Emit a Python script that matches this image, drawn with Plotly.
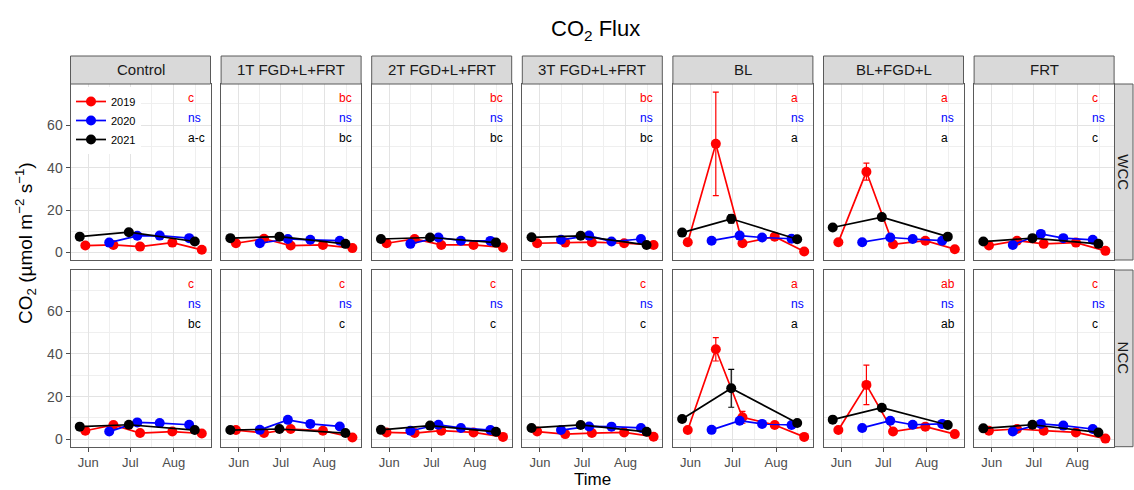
import plotly.graph_objects as go

W, H = 1134, 490

panels = ["Control", "1T FGD+L+FRT", "2T FGD+L+FRT", "3T FGD+L+FRT", "BL", "BL+FGD+L", "FRT"]
rows = ["WCC", "NCC"]
years = ["2019", "2020", "2021"]
year_colors = ["#FF0000", "#0000FF", "#000000"]

# sampling dates (all mapped onto a common year for the month axis)
dates_2019 = ["2000-05-30", "2000-06-19", "2000-07-08", "2000-07-31", "2000-08-21"]
dates_2020 = ["2000-06-16", "2000-07-06", "2000-07-22", "2000-08-12"]
dates_2021 = ["2000-05-26", "2000-06-30", "2000-08-16"]

# CO2 flux means, one list per treatment (panel order above)
wcc_2019 = [[3.3, 3.6, 2.8, 4.7, 1.3], [4.4, 6.5, 3.3, 3.6, 2.1], [4.4, 6.4, 3.6, 3.6, 2.4],
            [4.4, 4.7, 4.9, 4.4, 3.6], [4.9, 51.2, 4.4, 7.5, 0.5], [4.9, 38.1, 3.9, 5.6, 1.6],
            [3.3, 5.6, 4.1, 4.7, 0.8]]
wcc_2020 = [[4.7, 7.9, 8.0, 6.8], [4.4, 6.4, 6.0, 5.6], [4.1, 7.1, 5.6, 5.5],
            [6.0, 8.0, 5.2, 6.4], [5.6, 8.0, 7.1, 6.5], [4.9, 7.1, 6.4, 5.6],
            [3.6, 8.8, 6.8, 6.0]]
wcc_2021 = [[7.5, 9.6, 5.2], [6.8, 7.5, 4.1], [6.4, 7.1, 4.7], [7.2, 7.9, 3.6],
            [9.4, 15.9, 6.3], [11.8, 16.7, 7.5], [5.2, 6.8, 4.1]]
ncc_2019 = [[4.0, 6.7, 2.9, 3.6, 2.7], [4.3, 2.9, 4.8, 4.0, 0.8], [3.2, 2.9, 4.0, 3.2, 1.1],
            [3.6, 2.4, 2.9, 3.2, 1.2], [4.3, 42.2, 10.3, 6.7, 1.1], [4.3, 25.5, 3.6, 5.9, 2.4],
            [4.0, 4.8, 4.0, 3.2, 0.3]]
ncc_2020 = [[3.6, 7.9, 7.6, 6.8], [4.4, 9.1, 7.2, 6.0], [4.0, 6.8, 5.3, 4.3],
            [4.3, 6.0, 5.9, 5.3], [4.4, 8.7, 7.2, 6.7], [5.3, 8.7, 6.8, 7.2],
            [3.6, 7.2, 6.4, 4.8]]
ncc_2021 = [[5.9, 6.8, 4.3], [4.3, 4.8, 2.9], [4.4, 6.4, 3.5], [5.3, 6.7, 3.5],
            [9.5, 23.9, 7.6], [9.2, 14.8, 6.7], [5.1, 6.8, 3.2]]

# standard errors
wcc_2019_se = [[0.4, 0.5, 0.4, 0.5, 0.3], [0.4, 0.5, 0.4, 0.4, 0.3], [0.4, 0.5, 0.4, 0.4, 0.3],
               [0.4, 0.5, 0.4, 0.4, 0.3], [0.5, 24.4, 0.8, 0.8, 0.3], [0.5, 4.0, 0.5, 0.5, 0.3],
               [0.4, 0.5, 0.4, 0.4, 0.3]]
wcc_2020_se = [[0.4, 0.5, 0.5, 0.4]] * 7
wcc_2021_se = [[0.5, 0.6, 0.4], [0.5, 0.5, 0.4], [0.5, 0.5, 0.4], [0.5, 0.5, 0.4],
               [0.5, 2.0, 0.5], [0.5, 0.6, 0.5], [0.5, 0.5, 0.4]]
ncc_2019_se = [[0.4, 1.2, 0.4, 0.4, 0.3], [0.4, 0.4, 0.4, 0.4, 0.3], [0.4, 0.4, 0.4, 0.4, 0.3],
               [0.4, 0.4, 0.4, 0.4, 0.3], [0.5, 5.5, 2.8, 0.8, 0.3], [0.5, 9.3, 0.5, 0.5, 0.3],
               [0.4, 0.4, 0.4, 0.4, 0.3]]
ncc_2020_se = [[0.4, 0.5, 0.5, 0.4]] * 7
ncc_2021_se = [[0.5, 0.5, 0.4], [0.5, 0.5, 0.4], [0.5, 0.5, 0.4], [0.5, 0.5, 0.4],
               [0.5, 8.9, 0.5], [0.5, 0.6, 0.5], [0.5, 0.5, 0.4]]

# significance letters per panel: [2019, 2020, 2021]
letters_wcc = [["c", "ns", "a-c"], ["bc", "ns", "bc"], ["bc", "ns", "bc"], ["bc", "ns", "bc"],
               ["a", "ns", "a"], ["a", "ns", "a"], ["c", "ns", "c"]]
letters_ncc = [["c", "ns", "bc"], ["c", "ns", "c"], ["c", "ns", "c"], ["c", "ns", "c"],
               ["a", "ns", "a"], ["ab", "ns", "ab"], ["c", "ns", "c"]]
letter_y = [73, 63.5, 54]
letter_x = "2000-08-10"

x_ticks = ["2000-06-01", "2000-07-01", "2000-08-01"]
x_ticktext = ["Jun", "Jul", "Aug"]
x_minor = ["2000-06-16", "2000-07-16 12:00", "2000-08-16 12:00"]
y_ticks = [0, 20, 40, 60]
y_minor = [10, 30, 50, 70]

data = {"WCC": [(dates_2019, wcc_2019, wcc_2019_se), (dates_2020, wcc_2020, wcc_2020_se),
                (dates_2021, wcc_2021, wcc_2021_se)],
        "NCC": [(dates_2019, ncc_2019, ncc_2019_se), (dates_2020, ncc_2020, ncc_2020_se),
                (dates_2021, ncc_2021, ncc_2021_se)]}
letters = {"WCC": letters_wcc, "NCC": letters_ncc}

# ---------------- layout geometry (pixels) ----------------
panel_left0, panel_w, panel_step = 70.5, 140.0, 150.6
row_px = [(84.0, 260.0), (270.0, 446.7)]
strip_top = 56.0
rstrip = (1114.5, 1133.0)

def px(x):
    return x / W

def py(y):
    return 1 - y / H

fig = go.Figure()
layout = dict(width=W, height=H, margin=dict(l=0, r=0, t=0, b=0),
              paper_bgcolor="white", plot_bgcolor="white",
              font=dict(family="Liberation Sans, Arial, sans-serif", color="#000000"),
              showlegend=True)
shapes = []
annotations = []

GRID = "#E3E3E3"
GRID_MINOR = "#EFEFEF"
BORDER = "#5A5A5A"
TICKC = "#4D4D4D"

for r, rname in enumerate(rows):
    for c, pname in enumerate(panels):
        k = r * 7 + c + 1
        xa = "x" if k == 1 else f"x{k}"
        ya = "y" if k == 1 else f"y{k}"
        x0 = panel_left0 + c * panel_step
        x1 = x0 + panel_w
        y0, y1 = row_px[r]
        layout["xaxis" if k == 1 else f"xaxis{k}"] = dict(
            domain=[px(x0), px(x1)], anchor=ya, type="date",
            range=["2000-05-19 10:00", "2000-08-27 05:00"],
            tickmode="array", tickvals=x_ticks, ticktext=x_ticktext,
            showticklabels=(r == 1), ticks="outside" if r == 1 else "",
            ticklen=4, tickcolor=TICKC, tickfont=dict(size=13, color=TICKC),
            showgrid=True, gridcolor=GRID, gridwidth=1,
            minor=dict(tickmode="array", tickvals=x_minor, showgrid=True,
                       gridcolor=GRID_MINOR, gridwidth=1, ticks=""),
            showline=True, mirror=True, linecolor=BORDER, linewidth=1,
            zeroline=False, fixedrange=True)
        layout["yaxis" if k == 1 else f"yaxis{k}"] = dict(
            domain=[py(y1), py(y0)], anchor=xa, range=[-3.5, 79.4],
            tickmode="array", tickvals=y_ticks,
            showticklabels=(c == 0), ticks="outside" if c == 0 else "",
            ticklen=4, tickcolor=TICKC, tickfont=dict(size=14, color=TICKC),
            showgrid=True, gridcolor=GRID, gridwidth=1,
            minor=dict(tickmode="array", tickvals=y_minor, showgrid=True,
                       gridcolor=GRID_MINOR, gridwidth=1, ticks=""),
            showline=True, mirror=True, linecolor=BORDER, linewidth=1,
            zeroline=False, fixedrange=True)

        for yi, (dates, vals, ses) in enumerate(data[rname]):
            fig.add_trace(go.Scatter(
                x=dates, y=vals[c], xaxis=xa, yaxis=ya, mode="lines+markers",
                name=years[yi], legendgroup=years[yi], showlegend=(k == 1),
                line=dict(color=year_colors[yi], width=1.7),
                marker=dict(color=year_colors[yi], size=10),
                error_y=dict(type="data", array=ses[c], visible=True,
                             color=year_colors[yi], thickness=1.2, width=3),
                cliponaxis=False))
            annotations.append(dict(
                x=letter_x, y=letter_y[yi], xref=xa, yref=ya, text=letters[rname][c][yi],
                showarrow=False, xanchor="left", yanchor="middle",
                font=dict(size=12, color=year_colors[yi])))

        if r == 0:
            shapes.append(dict(type="rect", xref="paper", yref="paper",
                               x0=px(x0), x1=px(x1), y0=py(y0), y1=py(strip_top),
                               fillcolor="#D9D9D9", line=dict(color=BORDER, width=1)))
            annotations.append(dict(x=px((x0 + x1) / 2), y=py((strip_top + y0) / 2),
                                    xref="paper", yref="paper", text=pname, showarrow=False,
                                    xanchor="center", yanchor="middle",
                                    font=dict(size=15, color="#1A1A1A")))
    y0, y1 = row_px[r]
    shapes.append(dict(type="rect", xref="paper", yref="paper",
                       x0=px(rstrip[0]), x1=px(rstrip[1]), y0=py(y1), y1=py(y0),
                       fillcolor="#D9D9D9", line=dict(color=BORDER, width=1)))
    annotations.append(dict(x=px(sum(rstrip) / 2), y=py((y0 + y1) / 2), xref="paper",
                            yref="paper", text=rname, showarrow=False, textangle=90,
                            xanchor="center", yanchor="middle",
                            font=dict(size=15, color="#1A1A1A")))

annotations.append(dict(x=px(595), y=py(30), xref="paper", yref="paper",
                        text="CO<sub>2</sub> Flux", showarrow=False,
                        xanchor="center", yanchor="middle",
                        font=dict(size=22, color="#000000")))
annotations.append(dict(x=px(592), y=py(479.5), xref="paper", yref="paper", text="Time",
                        showarrow=False, xanchor="center", yanchor="middle",
                        font=dict(size=17, color="#000000")))
annotations.append(dict(x=px(26), y=py(243), xref="paper", yref="paper",
                        text="CO<sub>2</sub> (µmol m<sup>−2</sup> s<sup>−1</sup>)",
                        showarrow=False, textangle=-90, xanchor="center", yanchor="middle",
                        font=dict(size=19, color="#000000")))

layout["shapes"] = shapes
layout["annotations"] = annotations
layout["legend"] = dict(x=px(71), y=py(87), xanchor="left", yanchor="top",
                        bgcolor="white", borderwidth=0, font=dict(size=11),
                        tracegroupgap=0, itemwidth=30)
fig.update_layout(**layout)
fig.write_html("out.html")
